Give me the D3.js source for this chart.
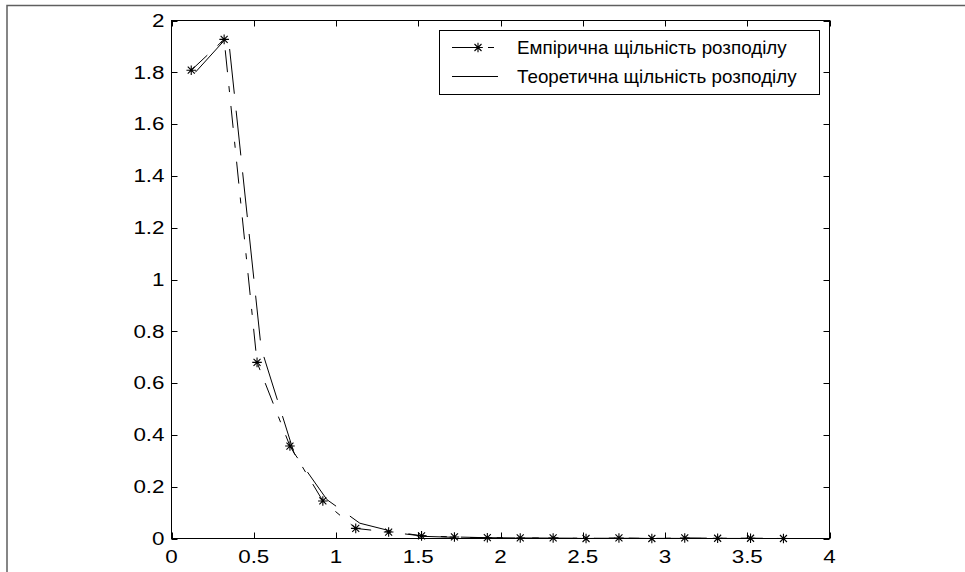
<!DOCTYPE html>
<html>
<head>
<meta charset="utf-8">
<script src="https://cdn.jsdelivr.net/npm/d3@7"></script>
<style>
  html,body{margin:0;padding:0;background:#fff;}
  svg{display:block;}
  text{font-family:"Liberation Sans",Arial,sans-serif;fill:#000;}
</style>
</head>
<body>
<svg id="chart" width="965" height="572"></svg>
<script>
// empirical density (stars, dash-dot)
const empX=[0.12,0.32,0.52,0.72,0.92,1.12,1.32,1.52,1.72,1.92,2.12,2.32,2.52,2.72,2.92,3.12,3.32,3.52,3.72];
const empY=[1.808,1.927,0.68,0.357,0.145,0.039,0.025,0.01,0.006,0.003,0.002,0.002,0.0,0.002,0.0,0.002,0.001,0.001,0.0];
// theoretical density (dashed)
const theoX=[0.145,0.345,0.545,0.745,0.945,1.145,1.345,1.545,1.745,1.945,2.145,2.345,2.545,2.745,2.945,3.145,3.345,3.545,3.745];
const theoY=[1.80,1.94,0.735,0.33,0.15,0.059,0.027,0.008,0.004,0.003,0.002,0.0015,0.001,0.0008,0.0006,0.0004,0.0003,0.0002,0.0002];
const xTicks=[0,0.5,1,1.5,2,2.5,3,3.5,4];
const yTicks=[0,0.2,0.4,0.6,0.8,1,1.2,1.4,1.6,1.8,2];
const legendLabels=["Емпірична щільність розподілу","Теоретична щільність розподілу"];

const svg=d3.select("#chart");
const L=171.5,R=829.5,T=20.5,B=538.5;
const x=d3.scaleLinear().domain([0,4]).range([L,R]);
const y=d3.scaleLinear().domain([0,2]).range([B,T]);
const fmt=d3.format("~g");

// figure frame
svg.append("rect").attr("x",7).attr("y",5.5).attr("width",1000).attr("height",600)
  .attr("fill","none").attr("stroke","#5f5f5f").attr("stroke-width",1.5);

// axes box
svg.append("rect").attr("x",L).attr("y",T).attr("width",R-L).attr("height",B-T)
  .attr("fill","#fff").attr("stroke","#000").attr("stroke-width",1);

const tl=6;
const tg=svg.append("g").attr("stroke","#000").attr("stroke-width",1);
xTicks.forEach(v=>{
  const px=Math.round(x(v))+0.5;
  tg.append("line").attr("x1",px).attr("x2",px).attr("y1",B).attr("y2",B-tl);
  tg.append("line").attr("x1",px).attr("x2",px).attr("y1",T).attr("y2",T+tl);
});
yTicks.forEach(v=>{
  const py=Math.round(y(v))+0.5;
  tg.append("line").attr("x1",L).attr("x2",L+tl).attr("y1",py).attr("y2",py);
  tg.append("line").attr("x1",R).attr("x2",R-tl).attr("y1",py).attr("y2",py);
});
// tick labels are rendered a bit wider in the original
const sx=1.28;
svg.append("g").selectAll("text").data(xTicks).join("text")
  .attr("transform",d=>`translate(${x(d)},${B+24}) scale(${sx},1)`).attr("text-anchor","middle")
  .attr("font-size",17.5).text(d=>fmt(d));
svg.append("g").selectAll("text").data(yTicks).join("text")
  .attr("transform",d=>`translate(${L-7},${y(d)+6.2}) scale(${sx},1)`).attr("text-anchor","end")
  .attr("font-size",17.5).text(d=>fmt(d));

const plot=svg.append("g");
const empPts=empX.map((v,i)=>[v,empY[i]]);
const theoPts=theoX.map((v,i)=>[v,theoY[i]]);
const line=d3.line().x(d=>x(d[0])).y(d=>y(d[1]));

plot.append("path").attr("d",line(theoPts)).attr("fill","none")
  .attr("stroke","#000").attr("stroke-width",1).attr("stroke-dasharray","45,17");
plot.append("path").attr("d",line(empPts)).attr("fill","none")
  .attr("stroke","#000").attr("stroke-width",1).attr("stroke-dasharray","22,14,6,14");

function star(g,cx,cy){
  const r=4.8,d=3.5;
  g.append("path").attr("d",`M${cx-r},${cy}H${cx+r}M${cx},${cy-r}V${cy+r}M${cx-d},${cy-d}L${cx+d},${cy+d}M${cx-d},${cy+d}L${cx+d},${cy-d}`)
    .attr("stroke","#000").attr("stroke-width",1.1).attr("fill","none");
}
empPts.forEach(p=>star(plot,x(p[0]),y(p[1])));

// legend
const lg=svg.append("g");
lg.append("rect").attr("x",439.5).attr("y",30.5).attr("width",380).attr("height",64)
  .attr("fill","#fff").attr("stroke","#000").attr("stroke-width",1);
const rows=[47.5,76.5];
lg.append("path").attr("d",`M452,${rows[0]}H498`).attr("stroke","#000").attr("stroke-dasharray","22,14,6,14");
star(lg,478,rows[0]);
lg.append("path").attr("d",`M452,${rows[1]}H498`).attr("stroke","#000");
legendLabels.forEach((t,i)=>{
  lg.append("text").attr("transform",`translate(517,${rows[i]+6.2}) scale(1.075,1)`)
    .attr("font-size",17.5).text(t);
});
</script>
</body>
</html>
